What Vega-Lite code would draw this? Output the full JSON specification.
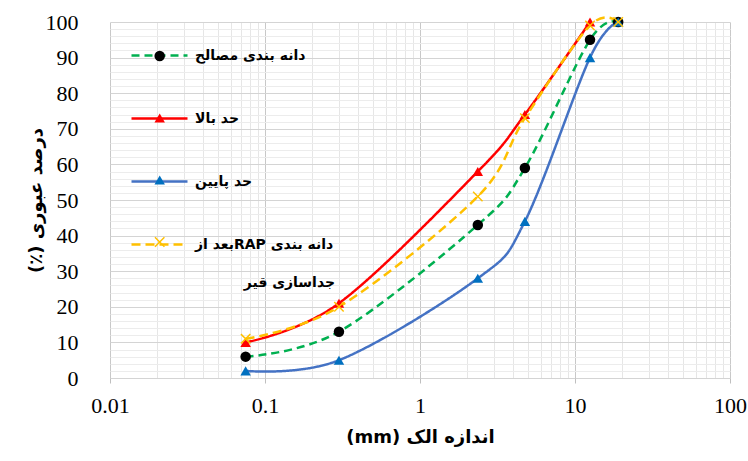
{
  "$schema": "https://vega.github.io/schema/vega-lite/v6.json",
  "width": 620,
  "height": 356,
  "autosize": {"type": "none"},
  "padding": {"left": 110, "top": 22, "right": 18, "bottom": 83},
  "background": "white",
  "config": {"view": {"stroke": null}},
  "data": {
    "values": [
      {"series": "دانه بندی مصالح", "size": 0.075, "pass": 6},
      {"series": "دانه بندی مصالح", "size": 0.3, "pass": 13},
      {"series": "دانه بندی مصالح", "size": 2.36, "pass": 43},
      {"series": "دانه بندی مصالح", "size": 4.75, "pass": 59},
      {"series": "دانه بندی مصالح", "size": 12.5, "pass": 95},
      {"series": "دانه بندی مصالح", "size": 19, "pass": 100},
      {"series": "حد بالا", "size": 0.075, "pass": 10},
      {"series": "حد بالا", "size": 0.3, "pass": 21},
      {"series": "حد بالا", "size": 2.36, "pass": 58},
      {"series": "حد بالا", "size": 4.75, "pass": 74},
      {"series": "حد بالا", "size": 12.5, "pass": 100},
      {"series": "حد پایین", "size": 0.075, "pass": 2},
      {"series": "حد پایین", "size": 0.3, "pass": 5},
      {"series": "حد پایین", "size": 2.36, "pass": 28},
      {"series": "حد پایین", "size": 4.75, "pass": 44},
      {"series": "حد پایین", "size": 12.5, "pass": 90},
      {"series": "حد پایین", "size": 19, "pass": 100},
      {"series": "دانه بندی RAP بعد از جداسازی قیر", "size": 0.075, "pass": 11},
      {"series": "دانه بندی RAP بعد از جداسازی قیر", "size": 0.3, "pass": 20},
      {"series": "دانه بندی RAP بعد از جداسازی قیر", "size": 2.36, "pass": 51},
      {"series": "دانه بندی RAP بعد از جداسازی قیر", "size": 4.75, "pass": 73},
      {"series": "دانه بندی RAP بعد از جداسازی قیر", "size": 12.5, "pass": 99},
      {"series": "دانه بندی RAP بعد از جداسازی قیر", "size": 19, "pass": 100}
    ]
  },
  "encoding": {
    "x": {
      "field": "size",
      "type": "quantitative",
      "scale": {"type": "log", "domain": [0.01, 100]},
      "axis": {
        "values": [0.01, 0.02, 0.03, 0.04, 0.05, 0.06, 0.07, 0.08, 0.09, 0.1, 0.2, 0.3, 0.4, 0.5, 0.6, 0.7, 0.8, 0.9, 1, 2, 3, 4, 5, 6, 7, 8, 9, 10, 20, 30, 40, 50, 60, 70, 80, 90, 100],
        "format": "~g",
        "labelExpr": "indexof([0.01,0.1,1,10,100], datum.value) >= 0 ? datum.label : ''",
        "labelOverlap": false,
        "labelFlush": false,
        "labelFont": "Liberation Serif",
        "labelFontSize": 22,
        "labelColor": "black",
        "labelPadding": 12,
        "domain": false,
        "tickSize": 5,
        "tickColor": "#bfbfbf",
        "tickOpacity": {"condition": {"test": "indexof([0.01,0.1,1,10,100], datum.value) >= 0", "value": 1}, "value": 0},
        "grid": true,
        "gridColor": {"condition": {"test": "indexof([0.01,0.1,1,10,100], datum.value) >= 0", "value": "#c8c8c8"}, "value": "#e6e6e6"},
        "gridOpacity": 1,
        "title": "\u202Bاندازه الک (mm)\u202C",
        "titleFont": "DejaVu Sans",
        "titleFontSize": 18,
        "titleFontWeight": "bold",
        "titleColor": "black",
        "titlePadding": 12
      }
    },
    "y": {
      "field": "pass",
      "type": "quantitative",
      "scale": {"domain": [0, 100]},
      "axis": {
        "values": [0, 2, 4, 6, 8, 10, 12, 14, 16, 18, 20, 22, 24, 26, 28, 30, 32, 34, 36, 38, 40, 42, 44, 46, 48, 50, 52, 54, 56, 58, 60, 62, 64, 66, 68, 70, 72, 74, 76, 78, 80, 82, 84, 86, 88, 90, 92, 94, 96, 98, 100],
        "labelExpr": "datum.value % 10 == 0 ? datum.label : ''",
        "labelOverlap": false,
        "labelFlush": false,
        "labelFont": "Liberation Serif",
        "labelFontSize": 22,
        "labelColor": "black",
        "labelPadding": 32,
        "ticks": false,
        "tickSize": 0,
        "domain": false,
        "grid": true,
        "gridColor": {"condition": {"test": "datum.value % 10 == 0", "value": "#d4d4d4"}, "value": "#ececec"},
        "gridOpacity": 1,
        "title": "\u202Bدرصد عبوری (٪)\u202C",
        "titleFont": "DejaVu Sans",
        "titleFontSize": 18,
        "titleFontWeight": "bold",
        "titleColor": "black",
        "titlePadding": 0
      }
    }
  },
  "layer": [
    {
      "mark": {"type": "line", "interpolate": "cardinal", "strokeWidth": 2.5},
      "encoding": {
        "color": {
          "field": "series",
          "type": "nominal",
          "scale": {
            "domain": ["دانه بندی مصالح", "حد بالا", "حد پایین", "دانه بندی RAP بعد از جداسازی قیر"],
            "range": ["#00B050", "#FF0000", "#4472C4", "#FFC000"]
          },
          "legend": {
            "orient": "none",
            "legendX": 20,
            "legendY": 4,
            "title": null,
            "symbolType": "stroke",
            "symbolSize": 3136,
            "symbolStrokeWidth": 2.5,
            "labelFont": "DejaVu Sans",
            "labelFontSize": 14,
            "labelFontWeight": "bold",
            "labelColor": "black",
            "labelOffset": 6,
            "labelLimit": 400,
            "rowPadding": 26,
            "labelExpr": "indexof(datum.label, 'RAP') >= 0 ? ['\u202Bدانه بندی  RAPبعد از\u202C', '\u202Bجداسازی قیر\u00A0\u00A0\u00A0\u00A0\u00A0\u00A0\u00A0\u00A0\u00A0\u00A0\u202C'] : datum.label",
            "encode": {"labels": {"update": {"lineHeight": {"value": 38}}}}
          }
        },
        "strokeDash": {
          "field": "series",
          "type": "nominal",
          "scale": {
            "domain": ["دانه بندی مصالح", "حد بالا", "حد پایین", "دانه بندی RAP بعد از جداسازی قیر"],
            "range": [[8, 5], [1, 0], [1, 0], [9, 5]]
          }
        }
      }
    },
    {
      "mark": {"type": "point", "filled": true, "size": 110, "opacity": 1},
      "encoding": {
        "color": {
          "field": "series",
          "type": "nominal",
          "scale": {
            "domain": ["دانه بندی مصالح", "حد بالا", "حد پایین", "دانه بندی RAP بعد از جداسازی قیر"],
            "range": ["#000000", "#FF0000", "#0070C0", "#FFC000"]
          },
          "legend": {
            "orient": "none",
            "legendX": 42.7,
            "legendY": 27,
            "title": null,
            "symbolSize": 110,
            "symbolOpacity": 1,
            "labelFont": "DejaVu Sans",
            "labelFontSize": 14,
            "labelFontWeight": "bold",
            "labelOpacity": 0,
            "labelOffset": 6,
            "labelLimit": 400,
            "rowPadding": 48,
            "labelExpr": "indexof(datum.label, 'RAP') >= 0 ? ['\u202Bدانه بندی  RAPبعد از\u202C', '\u202Bجداسازی قیر\u00A0\u00A0\u00A0\u00A0\u00A0\u00A0\u00A0\u00A0\u00A0\u00A0\u202C'] : datum.label",
            "encode": {"labels": {"update": {"lineHeight": {"value": 38}}}}
          }
        },
        "shape": {
          "field": "series",
          "type": "nominal",
          "scale": {
            "domain": ["دانه بندی مصالح", "حد بالا", "حد پایین", "دانه بندی RAP بعد از جداسازی قیر"],
            "range": ["circle", "triangle-up", "triangle-up", "M-1,-0.8L-0.8,-1L0,-0.2L0.8,-1L1,-0.8L0.2,0L1,0.8L0.8,1L0,0.2L-0.8,1L-1,0.8L-0.2,0Z"]
          }
        }
      }
    }
  ],
  "resolve": {"scale": {"color": "independent", "strokeDash": "independent", "shape": "independent"}}
}
